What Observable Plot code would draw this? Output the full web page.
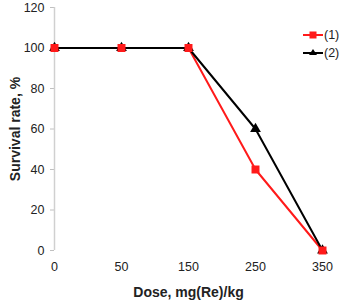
<!DOCTYPE html>
<html><head><meta charset="utf-8">
<script src="https://cdn.jsdelivr.net/npm/d3@7"></script>
<script src="https://cdn.jsdelivr.net/npm/@observablehq/plot@0.6"></script>
<style>
body{margin:0;background:#fff;font-family:"Liberation Sans",Arial,sans-serif;}
#wrap{position:relative;width:340px;height:306px;}
#legend{position:absolute;left:303px;top:26px;font-size:12.5px;line-height:18px;color:#222;}
#legend div{display:flex;align-items:center;height:18px;}
#legend svg{margin-right:1px;}
</style></head>
<body><div id="wrap"><div id="legend"></div></div>
<script>
const doses = ["0","50","150","250","350"];
const series1 = [100,100,100,40,0];
const series2 = [100,100,100,60,0];
const seriesNames = ["(1)","(2)"];
const colors = ["#ff1a1a","#000000"];
const yTicks = [0,20,40,60,80,100,120];
const xTitle = "Dose, mg(Re)/kg";
const yTitle = "Survival rate, %";

const data = [];
doses.forEach((d,i)=>{
  data.push({dose:d, value:series1[i], s:seriesNames[0]});
  data.push({dose:d, value:series2[i], s:seriesNames[1]});
});
const d1 = data.filter(d=>d.s===seriesNames[0]);
const d2 = data.filter(d=>d.s===seriesNames[1]);

const chart = Plot.plot({
  width:340, height:306,
  marginLeft:54, marginRight:18, marginTop:7, marginBottom:56,
  style:{fontFamily:"Liberation Sans, Arial, sans-serif", fontSize:"12.5px", color:"#222"},
  x:{type:"point", domain:doses, padding:0, tickSize:0, tickPadding:12, label:xTitle, labelAnchor:"center", labelOffset:46},
  y:{domain:[0,120], ticks:yTicks, tickSize:4, tickPadding:6, label:yTitle, labelAnchor:"center", labelOffset:44},
  marks:[
    Plot.ruleY([0],{stroke:"#d0d0d0", strokeWidth:1.5, x1:doses[0], x2:doses[4]}),
    Plot.ruleX([doses[0]],{stroke:"#d0d0d0", strokeWidth:1.5, y1:0, y2:120}),
    Plot.line(d1,{x:"dose", y:"value", stroke:colors[0], strokeWidth:2}),
    Plot.line(d2,{x:"dose", y:"value", stroke:colors[1], strokeWidth:2}),
    Plot.dot(d2,{x:"dose", y:"value", symbol:"triangle", fill:colors[1], r:4}),
    Plot.dot(d1,{x:"dose", y:"value", symbol:"square", fill:colors[0], r:4.5})
  ]
});
document.getElementById("wrap").appendChild(chart);
// style axis ticks and labels
d3.select(chart).selectAll('g[aria-label^="y-axis"] line, g[aria-label="y-axis tick"] path').attr("stroke","#c0c0c0");
d3.select(chart).selectAll('text').each(function(){
  const el = d3.select(this);
  const t = el.text().replace(/\s*[↑↓←→]\s*/g, "").trim();
  if (t === yTitle || t === xTitle) {
    el.text(t).style("font-weight","bold").style("font-size","14px").attr("fill","#222");
  }
});

const legend = d3.select("#legend");
seriesNames.forEach((n,i)=>{
  const row = legend.append("div");
  const sv = row.append("svg").attr("width",20).attr("height",12);
  sv.append("line").attr("x1",0).attr("x2",20).attr("y1",6).attr("y2",6).attr("stroke",colors[i]).attr("stroke-width",2);
  if(i===0) sv.append("rect").attr("x",6.5).attr("y",2.5).attr("width",7).attr("height",7).attr("fill",colors[i]);
  else sv.append("path").attr("d","M10,2 L14,8 L6,8 Z").attr("fill",colors[i]);
  row.append("span").text(n);
});
</script></body></html>
